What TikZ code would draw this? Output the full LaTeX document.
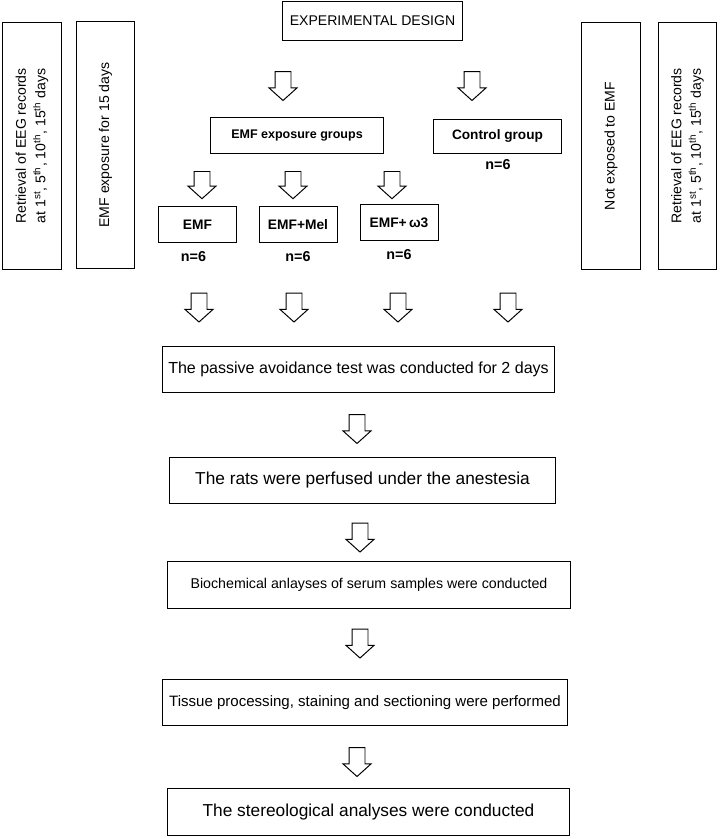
\documentclass[tikz,border=0pt]{standalone}
\usepackage{fontspec}
\setmainfont{Liberation Sans}
\usetikzlibrary{shapes.arrows, positioning}

\begin{document}
\begin{tikzpicture}[x=0.025cm, y=-0.025cm, line width=0.7pt]
\tikzstyle{box} = [rectangle, draw, inner sep=0pt, align=center, font=\fontsize{10}{12}\selectfont]
\tikzstyle{group} = [box, font=\fontsize{9.8}{11}\selectfont\bfseries]
\tikzstyle{stepbox} = [box, minimum height=1.17cm]
\tikzstyle{side} = [box, rotate=90, minimum width=6.15cm, minimum height=1.47cm, font=\fontsize{10}{14}\selectfont]
\tikzstyle{count} = [inner sep=0pt, font=\fontsize{10.2}{11}\selectfont\bfseries]
\tikzstyle{hollow} = [single arrow, draw, shape border rotate=270, inner sep=0.1875cm,
  minimum height=0.72cm, single arrow head extend=0.15cm, single arrow tip angle=96]

\useasboundingbox (0,0) rectangle (720,839);

% title and side columns
\node (design) [box, minimum width=4.52cm, minimum height=0.95cm] at (372.5,21) {EXPERIMENTAL DESIGN};
\node (eegL) [side] at (32,146) {Retrieval of EEG records\\at 1\textsuperscript{st}, 5\textsuperscript{th}, 10\textsuperscript{th}, 15\textsuperscript{th} days};
\node (expo) [side] at (105.5,145) {EMF exposure for 15 days};
\node (noexpo) [side] at (611,146) {Not exposed to EMF};
\node (eegR) [side] at (687.5,146) {Retrieval of EEG records\\at 1\textsuperscript{st}, 5\textsuperscript{th}, 10\textsuperscript{th}, 15\textsuperscript{th} days};

% groups
\node (a1) [hollow] at (283,82.5) {};
\node (a2) [hollow] at (472,82.5) {};
\node (emfgrp) [group, minimum width=4.3cm, minimum height=0.88cm, font=\fontsize{8.9}{11}\selectfont\bfseries] at (297,135.5) {EMF exposure groups};
\node (ctrl) [group, minimum width=3.22cm, minimum height=0.83cm, font=\fontsize{9.7}{11}\selectfont\bfseries] at (497.5,136.5) {Control group};
\node (nctrl) [count] at (498,165) {n=6};

\node (b1) [hollow, minimum height=0.68cm] at (202,181.5) {};
\node (b2) [hollow, minimum height=0.68cm] at (293,181.5) {};
\node (b3) [hollow, minimum height=0.68cm] at (392,181.5) {};
\node (emf) [group, minimum width=1.97cm, minimum height=0.88cm] at (197.5,224.5) {EMF};
\node (mel) [group, minimum width=1.95cm, minimum height=0.88cm] at (298,224.5) {EMF+Mel};
\node (omega) [group, minimum width=1.95cm, minimum height=0.88cm] at (399,222.5) {EMF+\,ω3};
\node (n1) [count, below=0.22cm of emf, xshift=-0.1cm] {n=6};
\node (n2) [count, below=0.22cm of mel] {n=6};
\node (n3) [count, below=0.22cm of omega] {n=6};

\foreach \x [count=\i] in {199,294,398,508}
  \node (c\i) [hollow] at (\x,304) {};

% procedure
\node (passive) [stepbox, minimum width=9.82cm, font=\fontsize{11.4}{13}\selectfont] at (358.5,369.5) {The passive avoidance test was conducted for 2 days};
\node (d1) [hollow] at (357,425.5) {};
\node (rats) [stepbox, minimum width=9.67cm, font=\fontsize{12.3}{14}\selectfont] at (362.5,480.5) {The rats were perfused under the anestesia};
\node (d2) [hollow] at (360,534) {};
\node (bio) [stepbox, minimum width=10.05cm, font=\fontsize{10.1}{12}\selectfont] at (369,585) {Biochemical anlayses of serum samples were conducted};
\node (d3) [hollow] at (360,640) {};
\node (tissue) [stepbox, minimum width=10.1cm, font=\fontsize{10.7}{12}\selectfont] at (365,702.5) {Tissue processing, staining and sectioning were performed};
\node (d4) [hollow] at (357,758.5) {};
\node (stereo) [stepbox, minimum width=10.07cm, font=\fontsize{12.3}{14}\selectfont] at (368.5,812) {The stereological analyses were conducted};

\end{tikzpicture}
\end{document}
